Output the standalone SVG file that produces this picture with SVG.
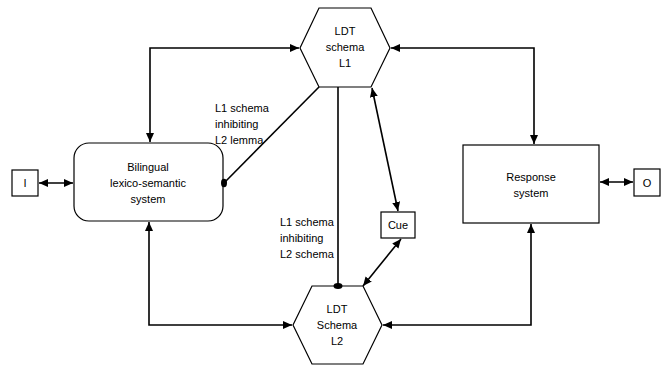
<svg xmlns="http://www.w3.org/2000/svg" width="662" height="366" viewBox="0 0 662 366">
<style>
.shape{fill:#fff;stroke:#000;stroke-width:1.2}
.line{fill:none;stroke:#000;stroke-width:1.6}
.txt{font-family:"Liberation Sans",Arial,sans-serif;font-size:11px;fill:#000;text-anchor:middle}
.lbl{font-family:"Liberation Sans",Arial,sans-serif;font-size:11px;fill:#000}
</style>
<defs>
<marker id="arr" markerUnits="userSpaceOnUse" markerWidth="10" markerHeight="10" viewBox="0 0 10 10" refX="9" refY="5" orient="auto-start-reverse">
<path d="M0,1 L9,5 L0,9 Z" fill="#000"/>
</marker>
</defs>
<rect width="662" height="366" fill="#fff"/>
<g id="ldt-l1">
<polygon class="shape" points="319,8 371,8 390,48 371,87 319,87 300,48"/>
<text class="txt" x="345" y="35">LDT</text>
<text class="txt" x="345" y="51">schema</text>
<text class="txt" x="345" y="67">L1</text>
</g>
<g id="ldt-l2">
<polygon class="shape" points="312,286 363,286 382,325 363,364 312,364 293,325"/>
<text class="txt" x="337" y="313">LDT</text>
<text class="txt" x="337" y="329">Schema</text>
<text class="txt" x="337" y="345">L2</text>
</g>
<g id="bilingual">
<rect class="shape" x="74" y="143" width="149" height="78" rx="15" ry="15"/>
<text class="txt" x="148" y="171">Bilingual</text>
<text class="txt" x="148" y="187">lexico-semantic</text>
<text class="txt" x="148" y="203">system</text>
</g>
<g id="input">
<rect class="shape" x="12" y="170" width="26" height="26"/>
<text class="txt" x="25" y="187">I</text>
</g>
<g id="response">
<rect class="shape" x="463" y="145" width="136" height="78"/>
<text class="txt" x="531" y="181">Response</text>
<text class="txt" x="531" y="197">system</text>
</g>
<g id="output">
<rect class="shape" x="634" y="169" width="26" height="27"/>
<text class="txt" x="647" y="187">O</text>
</g>
<g id="cue">
<rect class="shape" x="381" y="212" width="34" height="26"/>
<text class="txt" x="398" y="229">Cue</text>
</g>
<g id="labels">
<text class="lbl" x="215" y="112">L1 schema</text>
<text class="lbl" x="215" y="128">inhibiting</text>
<text class="lbl" x="215" y="144">L2 lemma</text>
<text class="lbl" x="280" y="226">L1 schema</text>
<text class="lbl" x="280" y="242">inhibiting</text>
<text class="lbl" x="280" y="258">L2 schema</text>
</g>
<g id="connectors">
<polyline class="line" points="150,142 150,48 299,48" marker-start="url(#arr)" marker-end="url(#arr)"/>
<polyline class="line" points="391,48 534,48 534,144" marker-start="url(#arr)" marker-end="url(#arr)"/>
<polyline class="line" points="149,222 149,325 292,325" marker-start="url(#arr)" marker-end="url(#arr)"/>
<polyline class="line" points="383,325 531,325 531,224" marker-start="url(#arr)" marker-end="url(#arr)"/>
<line class="line" x1="39" y1="183" x2="73" y2="183" marker-start="url(#arr)" marker-end="url(#arr)"/>
<line class="line" x1="600" y1="182" x2="633" y2="182" marker-start="url(#arr)" marker-end="url(#arr)"/>
<line class="line" x1="372" y1="88" x2="398" y2="211" marker-start="url(#arr)" marker-end="url(#arr)"/>
<line class="line" x1="363" y1="286" x2="401" y2="239" marker-start="url(#arr)" marker-end="url(#arr)"/>
<line class="line" x1="319" y1="87" x2="224" y2="183"/>
<ellipse cx="224" cy="183" rx="3" ry="4.2" fill="#000"/>
<line class="line" x1="338" y1="87" x2="338" y2="286"/>
<ellipse cx="338" cy="286" rx="4.5" ry="3" fill="#000"/>
</g>
</svg>
